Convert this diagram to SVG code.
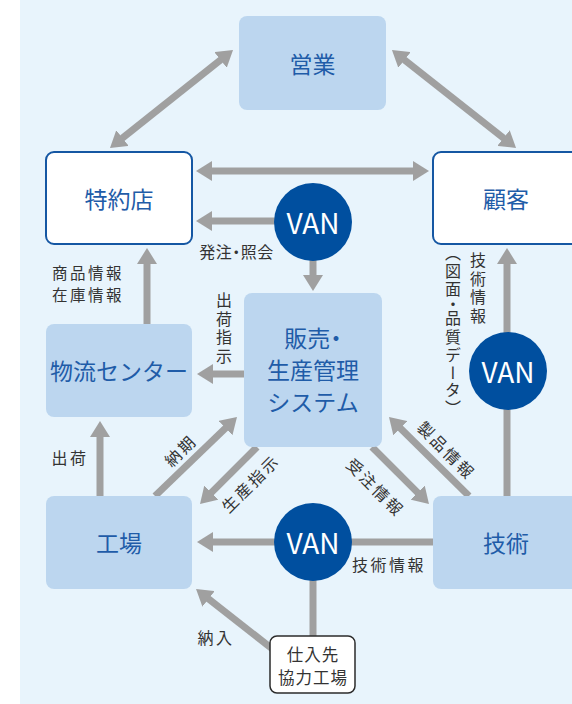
<svg xmlns="http://www.w3.org/2000/svg" width="572" height="704" viewBox="0 0 572 704">
<style>
.bg{fill:#e8f4fc}
.box{fill:#bcd6ef}
.wbox{fill:#ffffff;stroke:#1557a3;stroke-width:2}
.sbox{fill:#ffffff;stroke:#2b2b2b;stroke-width:1.5}
.nt{font-family:"Noto Sans CJK JP","Noto Sans",sans-serif;font-size:23px;fill:#1f5ca8;text-anchor:middle;dominant-baseline:central}
.van{fill:#004f9f}
.vt{font-family:"Noto Sans CJK JP","Noto Sans",sans-serif;font-size:28px;fill:#ffffff;text-anchor:middle;dominant-baseline:central}
.lb{font-family:"Noto Sans CJK JP","Noto Sans",sans-serif;font-size:16px;fill:#333333;text-anchor:middle;dominant-baseline:central;letter-spacing:2.5px}
.lb2{font-size:15.5px}
.vl{font-family:"Noto Sans CJK JP","Noto Sans",sans-serif;font-size:16px;fill:#333333;writing-mode:vertical-rl;letter-spacing:2.5px}
.st{font-family:"Noto Sans CJK JP","Noto Sans",sans-serif;font-size:16.5px;fill:#333333;text-anchor:middle;dominant-baseline:central;letter-spacing:1px}
.ar{stroke:#a0a0a0;stroke-width:7;fill:none}
.a1{marker-end:url(#ah)}
.a2{marker-start:url(#ah);marker-end:url(#ah)}
</style>
<defs>
<marker id="ah" markerUnits="userSpaceOnUse" markerWidth="16" markerHeight="20" refX="6" refY="10" orient="auto-start-reverse" viewBox="0 0 16 20">
<path d="M0,0 L16,10 L0,20 Z" fill="#a0a0a0"/>
</marker>
</defs>
<rect class="bg" x="20" y="0" width="552" height="704"/>

<g id="connectors">
<line class="ar a2" x1="117.8" y1="141.8" x2="225.2" y2="56.2"/>
<line class="ar a2" x1="399.8" y1="56.2" x2="508.2" y2="141.8"/>
<line class="ar a2" x1="206" y1="171" x2="419" y2="171"/>
<line class="ar a1" x1="300" y1="221" x2="206" y2="221"/>
<line class="ar a1" x1="313" y1="250" x2="313" y2="281"/>
<line class="ar a1" x1="147" y1="324" x2="147" y2="258"/>
<line class="ar a1" x1="244" y1="374" x2="207" y2="374"/>
<line class="ar a1" x1="100" y1="496" x2="100" y2="431"/>
<line class="ar a1" x1="155" y1="496" x2="229.8" y2="423.9"/>
<line class="ar a1" x1="257" y1="447" x2="207.1" y2="496.9"/>
<line class="ar a1" x1="372" y1="447" x2="421.9" y2="496.9"/>
<line class="ar a1" x1="469" y1="496" x2="396.1" y2="424"/>
<line class="ar a1" x1="507" y1="496" x2="507" y2="258"/>
<line class="ar a1" x1="433" y1="542" x2="207" y2="542"/>
<line class="ar" x1="313" y1="640" x2="313" y2="560"/>
<line class="ar a1" x1="275" y1="651" x2="203.9" y2="595.2"/>
</g>

<g id="labels">
<text class="lb" x="236.5" y="251" style="letter-spacing:0.5px;font-feature-settings:'palt'">発注・照会</text>
<text class="lb lb2" x="88" y="272">商品情報</text>
<text class="lb lb2" x="88" y="294">在庫情報</text>
<text class="vl" x="224" y="292">出荷指示</text>
<text class="lb" x="70" y="457">出荷</text>
<text class="lb" transform="translate(180,450) rotate(-45)">納期</text>
<text class="lb" transform="translate(250,483) rotate(-45)">生産指示</text>
<text class="lb" transform="translate(376,487) rotate(45)">受注情報</text>
<text class="lb" transform="translate(447,450) rotate(45)">製品情報</text>
<text class="lb" x="389" y="564">技術情報</text>
<text class="lb" x="216" y="637">納入</text>
<text class="vl" x="478" y="252">技術情報</text>
<text class="vl" x="453" y="252" style="font-feature-settings:'vpal'">（図面・品質データ）</text>
</g>

<g id="node-eigyo">
<rect class="box" x="239" y="16" width="147" height="94" rx="8"/>
<text class="nt" x="312.5" y="63">営業</text>
</g>
<g id="node-tokuyakuten">
<rect class="wbox" x="46" y="152" width="146" height="92" rx="8"/>
<text class="nt" x="119" y="198">特約店</text>
</g>
<g id="node-kokyaku">
<rect class="wbox" x="433" y="152" width="150" height="92" rx="8"/>
<text class="nt" x="506" y="198">顧客</text>
</g>
<g id="node-butsuryu">
<rect class="box" x="46" y="324" width="146" height="93" rx="8"/>
<text class="nt" x="119" y="370">物流センター</text>
</g>
<g id="node-system">
<rect class="box" x="244" y="293" width="138" height="154" rx="8"/>
<text class="nt" x="313" y="337" style="font-feature-settings:'palt'">販売・</text>
<text class="nt" x="313" y="369">生産管理</text>
<text class="nt" x="313" y="401">システム</text>
</g>
<g id="node-kojo">
<rect class="box" x="46" y="496" width="146" height="93" rx="8"/>
<text class="nt" x="119" y="542">工場</text>
</g>
<g id="node-gijutsu">
<rect class="box" x="433" y="496" width="150" height="93" rx="8"/>
<text class="nt" x="506" y="542">技術</text>
</g>
<g id="node-shiiresaki">
<rect class="sbox" x="270" y="636" width="85" height="57" rx="7"/>
<text class="st" x="313" y="654">仕入先</text>
<text class="st" x="313" y="677">協力工場</text>
</g>
<g id="van1">
<circle class="van" cx="313" cy="222" r="39"/>
<text class="vt" x="313" y="222">VAN</text>
</g>
<g id="van2">
<circle class="van" cx="508" cy="371" r="39"/>
<text class="vt" x="508" y="371">VAN</text>
</g>
<g id="van3">
<circle class="van" cx="313" cy="542" r="39"/>
<text class="vt" x="313" y="542">VAN</text>
</g>
</svg>
